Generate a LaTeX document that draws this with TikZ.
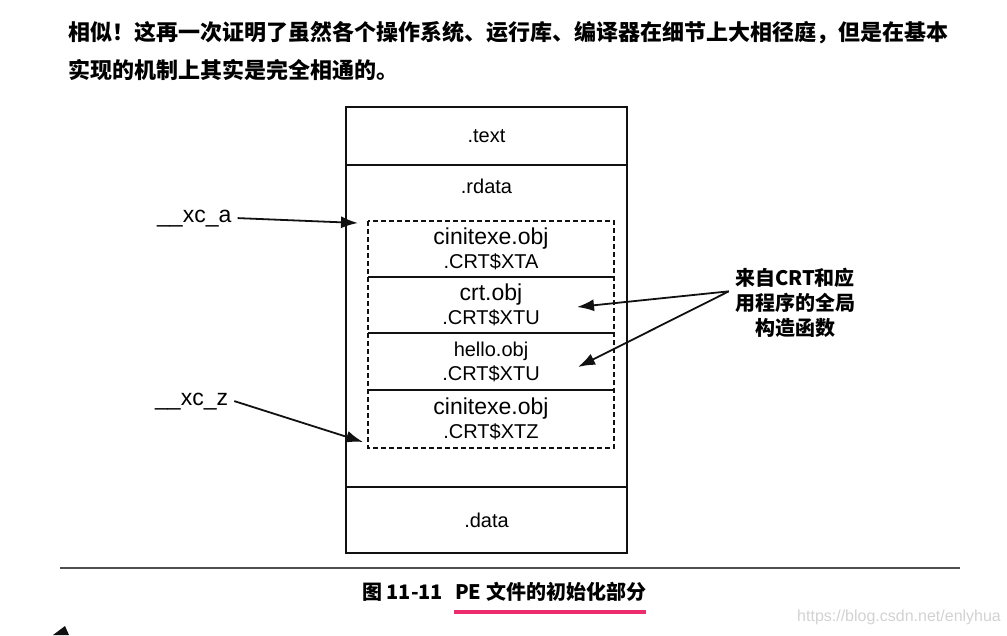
\documentclass[tikz,border=0pt]{standalone}
\usepackage{fontspec}
\setmainfont{Liberation Sans}
\newfontfamily\cjk{Noto Sans CJK SC}
\usetikzlibrary{arrows.meta,positioning}
\definecolor{tinte}{HTML}{111111}
\definecolor{regel}{HTML}{4F4F4F}
\definecolor{pink}{HTML}{EC2C6C}
\definecolor{wasser}{HTML}{D2D2D2}
\tikzset{
  arr/.style={-{Latex[length=17pt,width=12pt]},tinte,line width=1.8pt},
  sect/.style={draw=tinte,line width=2pt,minimum width=281pt,inner sep=0pt,outer sep=0pt,font=\fontsize{20}{24}\selectfont},
  cell/.style={minimum width=246pt,inner sep=0pt,outer sep=0pt,align=center,font=\fontsize{20}{24}\selectfont},
  dashbox/.style={tinte,dash pattern=on 5pt off 3pt,line width=1.5pt},
  divider/.style={tinte,line width=1.5pt},
  symlbl/.style={font=\fontsize{23}{26}\selectfont,inner sep=6pt},
  cjktxt/.style={anchor=west,inner sep=0pt,font=\cjk\bfseries\fontsize{22}{26}\selectfont},
  hilite/.style={pink,line width=4pt},
}
\newcommand\objbig[1]{{\fontsize{23}{24}\selectfont #1}}

\begin{document}
\begin{tikzpicture}[x=1pt,y=-1pt]
  \useasboundingbox (0,0) rectangle (1007,635);
  % text above
  \node[cjktxt] (par1) at (68,33) {相似！这再一次证明了虽然各个操作系统、运行库、编译器在细节上大相径庭，但是在基本};
  \node[cjktxt] (par2) at (68,70) {实现的机制上其实是完全相通的。};

  % sections
  \node[sect,minimum height=58pt] (text) at (486.5,136) {.text};
  \node[sect,minimum height=322pt,below=0pt of text] (rdata) {};
  \node[sect,minimum height=66pt,below=0pt of rdata] (data) {.data};
  \node[font=\fontsize{20}{24}\selectfont] (rdatalbl) at (486.5,186) {.rdata};

  % .CRT$XT* pieces
  \node[cell,minimum height=56pt] (c1) at (491,249) {\objbig{cinitexe.obj}\\.CRT\$XTA};
  \node[cell,minimum height=56pt,below=0pt of c1] (c2) {\objbig{crt.obj}\\.CRT\$XTU};
  \node[cell,minimum height=57pt,below=0pt of c2] (c3) {hello.obj\\.CRT\$XTU};
  \node[cell,minimum height=58pt,below=0pt of c3] (c4) {\objbig{cinitexe.obj}\\.CRT\$XTZ};
  \draw[dashbox] (c1.north west) rectangle (c4.south east);
  \foreach \c in {c1,c2,c3}
    \draw[divider] (\c.south west) -- (\c.south east);

  % symbols
  \node[symlbl,anchor=base west] (xca) at (151,222) {\_\_xc\_a};
  \node[symlbl,anchor=base west] (xcz) at (149,405) {\_\_xc\_z};
  \coordinate (atop) at (358,223);
  \coordinate (abot) at (363,442);
  \draw[arr] (xca.east) -- (atop);
  \draw[arr] (xcz.east) -- (abot);

  % global constructors
  \node[font=\cjk\bfseries\fontsize{20}{25}\selectfont,align=center,inner sep=6pt] (ctor) at (795,303) {来自CRT和应\\用程序的全局\\构造函数};
  \coordinate (tipa) at (577,307);
  \coordinate (tipb) at (578,367);
  \draw[arr] (ctor.170) -- (tipa);
  \draw[arr] (ctor.170) -- (tipb);

  % caption
  \draw[regel,line width=2pt] (60,568) -- (960,568);
  \node[anchor=west,inner sep=0pt,font=\cjk\bfseries\fontsize{20}{24}\selectfont] (capnum) at (362,592) {图 11-11};
  \node[anchor=west,inner sep=0pt,font=\cjk\bfseries\fontsize{20}{24}\selectfont] (captxt) at (455,592) {PE 文件的初始化部分};
  \draw[hilite] (454,612) -- (646,612);
  \node[anchor=west,inner sep=0pt,text=wasser,font=\fontsize{16}{18}\selectfont] (wm) at (797,617) {https://blog.csdn.net/enlyhua};
  \fill[tinte] (65,626) -- (53,635) -- (69,635) -- cycle;
\end{tikzpicture}
\end{document}
